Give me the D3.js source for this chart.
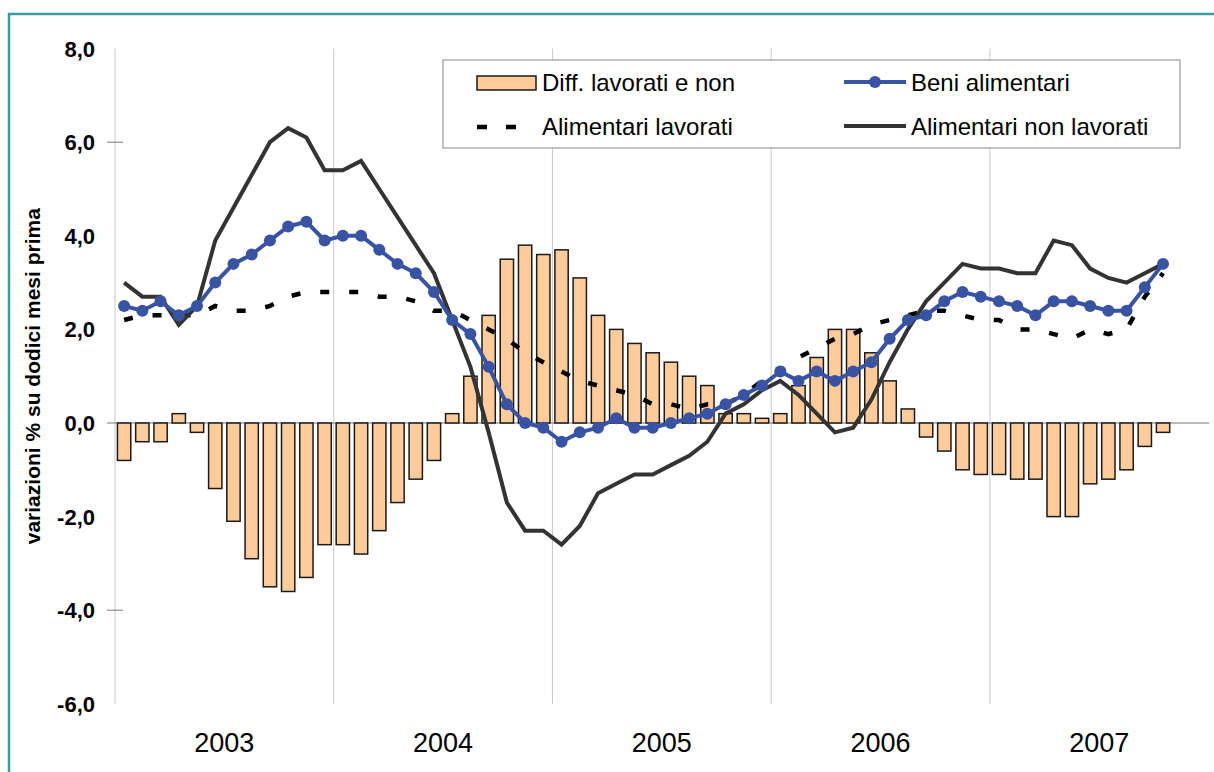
<!DOCTYPE html>
<html>
<head>
    <meta charset="utf-8">
    <title>Beni alimentari - variazioni</title>
    <script src="https://d3js.org/d3.v7.min.js"></script>
    <style>
        body { margin: 0; background: #fff; }
        svg { display: block; font-family: "Liberation Sans", Arial, sans-serif; }
        .grid { stroke: #c8c8c8; stroke-width: 1px; }
        .bar { fill: #ffcc99; stroke: #1a1a1a; stroke-width: 1.5px; }
        .ytick { font-size: 22px; font-weight: bold; text-anchor: end; }
        .year { font-size: 27px; text-anchor: middle; }
        .legend text { font-size: 24px; }
    </style>
</head>
<body>
<svg width="1214" height="772"></svg>
<script>
    // dati mensili gen 2003 - ott 2007
    var years = ["2003", "2004", "2005", "2006", "2007"];
    var yTicks = [-6, -4, -2, 0, 2, 4, 6, 8];

    var diffLavNon = [
        -0.8, -0.4, -0.4, 0.2, -0.2, -1.4, -2.1, -2.9, -3.5, -3.6, -3.3, -2.6,
        -2.6, -2.8, -2.3, -1.7, -1.2, -0.8, 0.2, 1.0, 2.3, 3.5, 3.8, 3.6,
        3.7, 3.1, 2.3, 2.0, 1.7, 1.5, 1.3, 1.0, 0.8, 0.2, 0.2, 0.1,
        0.2, 0.8, 1.4, 2.0, 2.0, 1.5, 0.9, 0.3, -0.3, -0.6, -1.0, -1.1,
        -1.1, -1.2, -1.2, -2.0, -2.0, -1.3, -1.2, -1.0, -0.5, -0.2
    ];
    var beniAlimentari = [
        2.5, 2.4, 2.6, 2.3, 2.5, 3.0, 3.4, 3.6, 3.9, 4.2, 4.3, 3.9,
        4.0, 4.0, 3.7, 3.4, 3.2, 2.8, 2.2, 1.9, 1.2, 0.4, 0.0, -0.1,
        -0.4, -0.2, -0.1, 0.1, -0.1, -0.1, 0.0, 0.1, 0.2, 0.4, 0.6, 0.8,
        1.1, 0.9, 1.1, 0.9, 1.1, 1.3, 1.8, 2.2, 2.3, 2.6, 2.8, 2.7,
        2.6, 2.5, 2.3, 2.6, 2.6, 2.5, 2.4, 2.4, 2.9, 3.4
    ];
    var alimLavorati = [
        2.2, 2.3, 2.3, 2.3, 2.3, 2.5, 2.4, 2.4, 2.5, 2.7, 2.8, 2.8,
        2.8, 2.8, 2.7, 2.7, 2.6, 2.4, 2.4, 2.2, 2.0, 1.8, 1.5, 1.3,
        1.1, 0.9, 0.8, 0.7, 0.6, 0.4, 0.4, 0.3, 0.4, 0.4, 0.6, 0.9,
        1.1, 1.4, 1.6, 1.8, 1.9, 2.1, 2.2, 2.3, 2.4, 2.4, 2.3, 2.2,
        2.2, 2.0, 2.0, 1.9, 1.8, 2.0, 1.9, 2.0, 2.7, 3.2
    ];
    var alimNonLavorati = [
        3.0, 2.7, 2.7, 2.1, 2.5, 3.9, 4.6, 5.3, 6.0, 6.3, 6.1, 5.4,
        5.4, 5.6, 5.0, 4.4, 3.8, 3.2, 2.2, 1.2, -0.2, -1.7, -2.3, -2.3,
        -2.6, -2.2, -1.5, -1.3, -1.1, -1.1, -0.9, -0.7, -0.4, 0.2, 0.4, 0.7,
        0.9, 0.6, 0.2, -0.2, -0.1, 0.5, 1.3, 2.0, 2.6, 3.0, 3.4, 3.3,
        3.3, 3.2, 3.2, 3.9, 3.8, 3.3, 3.1, 3.0, 3.2, 3.4
    ];

    var allMonths = [];
    years.forEach(function (y) {
        for (var m = 1; m <= 12; m++) allMonths.push(y + "-" + (m < 10 ? "0" + m : m));
    });
    var months = allMonths.slice(0, diffLavNon.length);

    var svg = d3.select("svg");

    var x = d3.scaleBand()
        .domain(allMonths)
        .range([115, 1208.6])
        .paddingInner(0.27)
        .paddingOuter(0.135);
    var y = d3.scaleLinear().domain([-6, 8]).range([703.8, 48.6]);

    function cx(m) { return x(m) + x.bandwidth() / 2; }
    function yearStart(yr) { return x(yr + "-01") - (x.step() - x.bandwidth()) / 2; }
    var fmt = function (v) { return d3.format(".1f")(v).replace(".", ",").replace("−", "-"); };

    // cornice
    svg.append("rect")
        .attr("x", 9).attr("y", 14)
        .attr("width", 1230).attr("height", 780)
        .attr("fill", "none")
        .attr("stroke", "#3e9a9b")
        .attr("stroke-width", 2.5);

    // griglia verticale per anno
    svg.selectAll(".grid")
        .data(years)
        .enter().append("line")
        .attr("class", "grid")
        .attr("x1", function (d) { return yearStart(d); })
        .attr("x2", function (d) { return yearStart(d); })
        .attr("y1", y(8))
        .attr("y2", y(-6));

    // etichette asse y
    svg.selectAll(".ytick")
        .data(yTicks)
        .enter().append("text")
        .attr("class", "ytick")
        .attr("x", 95)
        .attr("y", function (d) { return y(d); })
        .attr("dy", "0.36em")
        .text(fmt);

    svg.selectAll(".tickmark")
        .data([6, -4])
        .enter().append("line")
        .attr("x1", 107).attr("x2", 123)
        .attr("y1", function (d) { return y(d); })
        .attr("y2", function (d) { return y(d); })
        .attr("stroke", "#777").attr("stroke-width", 1);

    svg.append("line")
        .attr("x1", 107).attr("x2", 1209)
        .attr("y1", y(0)).attr("y2", y(0))
        .attr("stroke", "#777").attr("stroke-width", 1.2);

    svg.append("text")
        .attr("transform", "translate(40," + ((y(8) + y(-6)) / 2) + ") rotate(-90)")
        .attr("text-anchor", "middle")
        .style("font-size", "21px")
        .style("font-weight", "bold")
        .text("variazioni % su dodici mesi prima");

    // anni
    svg.selectAll(".year")
        .data(years)
        .enter().append("text")
        .attr("class", "year")
        .attr("x", function (d) { return yearStart(d) + x.step() * 6; })
        .attr("y", 752)
        .text(function (d) { return d; });

    // barre
    svg.selectAll(".bar")
        .data(months)
        .enter().append("rect")
        .attr("class", "bar")
        .attr("x", function (d) { return x(d); })
        .attr("width", x.bandwidth())
        .attr("y", function (d, i) { return y(Math.max(0, diffLavNon[i])); })
        .attr("height", function (d, i) { return Math.abs(y(diffLavNon[i]) - y(0)); });

    var line = d3.line()
        .x(function (d) { return cx(d.m); })
        .y(function (d) { return y(d.v); });

    function series(arr) {
        return months.map(function (m, i) { return { m: m, v: arr[i] }; });
    }

    svg.append("path")
        .datum(series(alimLavorati))
        .attr("d", line)
        .attr("fill", "none")
        .attr("stroke", "#000")
        .attr("stroke-width", 4.5)
        .attr("stroke-dasharray", "9,20");

    svg.append("path")
        .datum(series(alimNonLavorati))
        .attr("d", line)
        .attr("fill", "none")
        .attr("stroke", "#333")
        .attr("stroke-width", 4)
        .attr("stroke-linejoin", "miter");

    svg.append("path")
        .datum(series(beniAlimentari))
        .attr("d", line)
        .attr("fill", "none")
        .attr("stroke", "#3953a4")
        .attr("stroke-width", 4);

    svg.selectAll(".dot")
        .data(series(beniAlimentari))
        .enter().append("circle")
        .attr("class", "dot")
        .attr("cx", function (d) { return cx(d.m); })
        .attr("cy", function (d) { return y(d.v); })
        .attr("r", 6)
        .attr("fill", "#3953a4");

    // legenda
    var legend = svg.append("g").attr("class", "legend");
    legend.append("rect")
        .attr("x", 443).attr("y", 60)
        .attr("width", 737).attr("height", 88)
        .attr("fill", "#fff")
        .attr("stroke", "#999")
        .attr("stroke-width", 1.2);

    legend.append("rect")
        .attr("class", "bar")
        .attr("x", 477).attr("y", 76)
        .attr("width", 59).attr("height", 14);
    legend.append("text").attr("x", 542).attr("y", 91).text("Diff. lavorati e non");

    legend.append("line")
        .attr("x1", 477).attr("x2", 518)
        .attr("y1", 127).attr("y2", 127)
        .attr("stroke", "#000").attr("stroke-width", 4.5)
        .attr("stroke-dasharray", "10,19");
    legend.append("text").attr("x", 542).attr("y", 135).text("Alimentari lavorati");

    legend.append("line")
        .attr("x1", 844).attr("x2", 906)
        .attr("y1", 82).attr("y2", 82)
        .attr("stroke", "#3953a4").attr("stroke-width", 4);
    legend.append("circle")
        .attr("cx", 875).attr("cy", 82).attr("r", 6)
        .attr("fill", "#3953a4");
    legend.append("text").attr("x", 911).attr("y", 91).text("Beni alimentari");

    legend.append("line")
        .attr("x1", 844).attr("x2", 906)
        .attr("y1", 126).attr("y2", 126)
        .attr("stroke", "#333").attr("stroke-width", 4);
    legend.append("text").attr("x", 911).attr("y", 135).text("Alimentari non lavorati");
</script>
</body>
</html>
